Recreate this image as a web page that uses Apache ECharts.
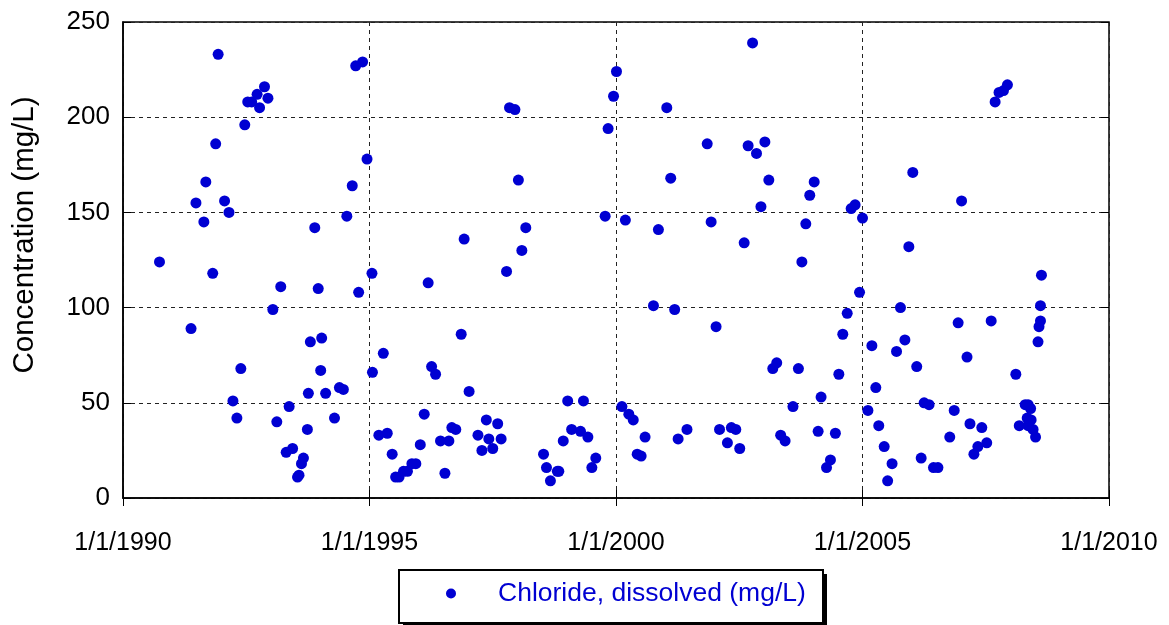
<!DOCTYPE html>
<html>
<head>
<meta charset="utf-8">
<script src="https://cdn.jsdelivr.net/npm/echarts@6/dist/echarts.min.js"></script>
<style>
html,body{margin:0;padding:0;background:#fff;}
#chart{width:1169px;height:625px;}
</style>
</head>
<body>
<div id="chart"></div>
<script>
// Sample dates as decimal years
const sampleYears = [
 1990.74,1991.38,1991.48,1991.64,1991.68,1991.82,1991.88,1991.93,1992.06,1992.15,
 1992.23,1992.31,1992.39,1992.47,1992.53,1992.61,1992.72,1992.77,1992.87,1992.94,
 1993.04,1993.12,1993.20,1993.31,1993.37,1993.44,1993.54,1993.57,1993.62,1993.66,
 1993.74,1993.76,1993.80,1993.89,1993.96,1994.01,1994.03,1994.11,1994.29,1994.39,
 1994.47,1994.54,1994.65,1994.72,1994.78,1994.86,1994.95,1995.05,1995.06,1995.19,
 1995.28,1995.36,1995.46,1995.53,1995.60,1995.69,1995.77,1995.86,1995.94,1996.03,
 1996.11,1996.19,1996.26,1996.34,1996.44,1996.53,1996.61,1996.67,1996.75,1996.86,
 1996.92,1997.02,1997.20,1997.28,1997.37,1997.42,1997.50,1997.60,1997.67,1997.78,
 1997.84,1997.95,1998.02,1998.09,1998.17,1998.53,1998.59,1998.67,1998.81,1998.84,
 1998.93,1999.02,1999.10,1999.28,1999.34,1999.43,1999.51,1999.59,1999.78,1999.84,
 1999.95,2000.01,2000.12,2000.19,2000.26,2000.35,2000.43,2000.51,2000.59,2000.76,
 2000.86,2001.03,2001.11,2001.19,2001.26,2001.44,2001.85,2001.93,2002.03,2002.10,
 2002.26,2002.34,2002.43,2002.51,2002.60,2002.68,2002.77,2002.85,2002.94,2003.02,
 2003.10,2003.18,2003.26,2003.34,2003.43,2003.59,2003.70,2003.77,2003.85,2003.93,
 2004.02,2004.10,2004.16,2004.27,2004.35,2004.45,2004.52,2004.60,2004.69,2004.77,
 2004.85,2004.94,2005.00,2005.11,2005.19,2005.27,2005.33,2005.44,2005.51,2005.60,
 2005.69,2005.77,2005.86,2005.94,2006.02,2006.10,2006.19,2006.25,2006.35,2006.44,
 2006.53,2006.77,2006.86,2006.94,2007.01,2007.12,2007.18,2007.26,2007.34,2007.42,
 2007.52,2007.61,2007.69,2007.77,2007.86,2007.94,2008.11,2008.18,2008.30,2008.36,
 2008.41,2008.34,2008.42,2008.36,2008.46,2008.51,2008.56,2008.58,2008.61,2008.61,
 2008.63
];
// Chloride, dissolved (mg/L)
const chloride = [
 124,89,155,145,166,118,186,233,156,150,
 51,42,68,196,208,208,212,205,216,210,
 99,40,111,24,48,26,11,12,18,21,
 36,55,82,142,110,67,84,55,42,58,
 57,148,164,227,108,229,178,118,66,33,
 76,34,23,11,11,14,14,18,18,28,
 44,113,69,65,30,13,30,37,36,86,
 136,56,33,25,41,31,26,39,31,119,
 205,204,167,130,142,23,16,9,14,14,
 30,51,36,35,51,32,16,21,148,194,
 211,224,48,146,44,41,23,22,32,101,
 141,205,168,99,31,36,186,145,90,36,
 29,37,36,26,134,185,239,181,153,187,
 167,68,71,33,30,48,68,124,144,159,
 166,35,53,16,20,34,65,86,97,152,
 154,108,147,46,80,58,38,27,9,18,
 77,100,83,132,171,69,21,50,49,16,
 16,32,46,92,156,74,39,23,27,37,
 29,93,208,213,214,217,65,38,49,49,
 47,42,41,38,36,32,82,90,93,101,
 117
];
const xTicks = [1990, 1995, 2000, 2005, 2010];
const yTicks = [0, 50, 100, 150, 200, 250];
const seriesName = 'Chloride, dissolved (mg/L)';
const yTitle = 'Concentration (mg/L)';

const points = sampleYears.map((x, i) => [x, chloride[i]]);
const font = 'Liberation Sans, Arial, sans-serif';
const blue = '#0000D2';

const chart = echarts.init(document.getElementById('chart'), null, {renderer: 'canvas'});
const splitDash = {show: true, lineStyle: {color: '#222', type: [4, 4], width: 1}};
chart.setOption({
  animation: false,
  backgroundColor: '#fff',
  grid: {left: 123, top: 22, right: 60, bottom: 127, outerBoundsMode: 'none', containLabel: false,
         show: true, borderColor: '#000', borderWidth: 1.5, backgroundColor: 'transparent'},
  graphic: [
    {type: 'rect', left: 403, top: 574, shape: {width: 424, height: 53}, style: {fill: '#000'}, z: 1, silent: true},
    {type: 'rect', left: 398, top: 569, shape: {width: 424, height: 53}, style: {fill: '#fff', stroke: '#000', lineWidth: 2}, z: 2, silent: true}
  ],
  legend: {
    data: [seriesName],
    left: 446, top: 580,
    orient: 'horizontal',
    padding: 0,
    itemWidth: 10, itemHeight: 10,
    z: 10,
    textStyle: {color: blue, fontSize: 26.5, fontFamily: font, padding: [0, 0, 0, 37]}
  },
  xAxis: [{
    type: 'value', min: xTicks[0], max: xTicks[xTicks.length - 1], interval: 5,
    axisLine: {show: true, onZero: false, lineStyle: {color: '#000', width: 1.5}},
    axisTick: {show: true, inside: true, length: 8, lineStyle: {color: '#000'}},
    axisLabel: {color: '#000', fontSize: 25, fontFamily: font, margin: 33, formatter: v => '1/1/' + v},
    splitLine: splitDash
  }, {
    type: 'value', position: 'top', min: xTicks[0], max: xTicks[xTicks.length - 1], interval: 5,
    axisLine: {show: false}, axisTick: {show: true, inside: true, length: 8, lineStyle: {color: '#000'}},
    axisLabel: {show: false}, splitLine: {show: false}
  }],
  yAxis: [{
    type: 'value', min: yTicks[0], max: yTicks[yTicks.length - 1], interval: 50,
    name: yTitle, nameLocation: 'middle', nameGap: 83,
    nameTextStyle: {color: '#000', fontSize: 29.5, fontFamily: font, padding: [0, 0, 0, 50]},
    axisLine: {show: true, onZero: false, lineStyle: {color: '#000', width: 1.5}},
    axisTick: {show: true, inside: true, length: 8, lineStyle: {color: '#000'}},
    axisLabel: {color: '#000', fontSize: 26, fontFamily: font, margin: 13},
    splitLine: splitDash
  }, {
    type: 'value', position: 'right', min: yTicks[0], max: yTicks[yTicks.length - 1], interval: 50,
    axisLine: {show: false}, axisTick: {show: true, inside: true, length: 8, lineStyle: {color: '#000'}},
    axisLabel: {show: false}, splitLine: {show: false}
  }],
  series: [{
    name: seriesName, type: 'scatter', data: points,
    symbol: 'circle', symbolSize: 11,
    itemStyle: {color: blue, opacity: 1}
  }]
});
</script>
</body>
</html>
